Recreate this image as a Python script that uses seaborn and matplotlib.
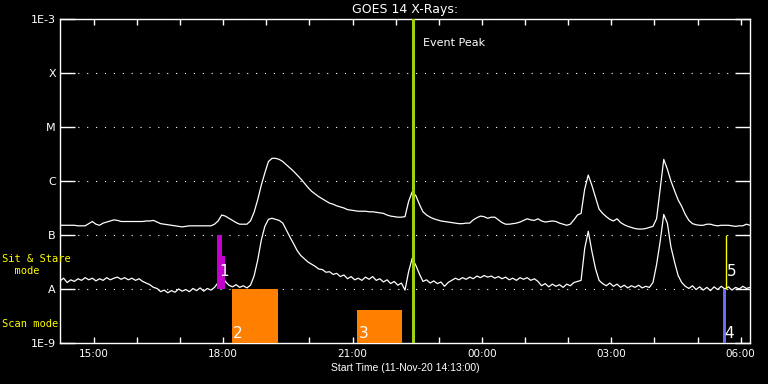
import numpy as np
import pandas as pd
import seaborn as sns
import matplotlib
matplotlib.use('Agg')
import matplotlib.pyplot as plt
import matplotlib.dates as mdates
from matplotlib.ticker import NullLocator

# GOES 14 x-ray flux, 5 min samples from 14:13, log10(W/m^2)
start_time = '2020-11-11 14:13'
long_log = [
    -6.82, -6.82, -6.82, -6.82, -6.82, -6.83, -6.83, -6.83, -6.79, -6.75,
    -6.80, -6.82, -6.78, -6.76, -6.74, -6.72, -6.73, -6.75, -6.75, -6.75,
    -6.75, -6.75, -6.75, -6.75, -6.74, -6.74, -6.73, -6.76, -6.79, -6.80,
    -6.81, -6.82, -6.83, -6.84, -6.85, -6.84, -6.83, -6.83, -6.83, -6.83,
    -6.83, -6.83, -6.83, -6.80, -6.74, -6.63, -6.65, -6.69, -6.73, -6.77,
    -6.80, -6.80, -6.80, -6.74, -6.58, -6.35, -6.08, -5.85, -5.64, -5.58,
    -5.58, -5.60, -5.64, -5.70, -5.76, -5.82, -5.89, -5.96, -6.04, -6.12,
    -6.19, -6.24, -6.29, -6.33, -6.37, -6.41, -6.43, -6.46, -6.48, -6.50,
    -6.53, -6.54, -6.55, -6.56, -6.56, -6.56, -6.57, -6.57, -6.58, -6.59,
    -6.60, -6.63, -6.65, -6.66, -6.67, -6.67, -6.66, -6.38, -6.20, -6.27,
    -6.43, -6.57, -6.63, -6.67, -6.70, -6.72, -6.74, -6.75, -6.76, -6.77,
    -6.78, -6.79, -6.79, -6.78, -6.78, -6.72, -6.68, -6.65, -6.66, -6.69,
    -6.67, -6.67, -6.72, -6.77, -6.80, -6.80, -6.79, -6.78, -6.76, -6.73,
    -6.70, -6.72, -6.73, -6.70, -6.74, -6.76, -6.75, -6.74, -6.75, -6.78,
    -6.80, -6.82, -6.80, -6.72, -6.63, -6.60, -6.15, -5.89, -6.08, -6.30,
    -6.52, -6.60, -6.66, -6.71, -6.74, -6.70, -6.77, -6.81, -6.84, -6.86,
    -6.88, -6.89, -6.89, -6.88, -6.86, -6.84, -6.70, -6.15, -5.60, -5.78,
    -6.00, -6.18, -6.35, -6.47, -6.62, -6.73, -6.79, -6.81, -6.82, -6.82,
    -6.80, -6.80, -6.82, -6.83, -6.82, -6.82, -6.82, -6.83, -6.84, -6.83,
    -6.83, -6.80, -6.82]
short_log = [
    -7.85, -7.80, -7.88, -7.83, -7.86, -7.81, -7.84, -7.79, -7.83, -7.80,
    -7.85, -7.81, -7.84, -7.79, -7.83, -7.80, -7.78, -7.82, -7.79, -7.83,
    -7.80, -7.84, -7.81, -7.86, -7.89, -7.92, -7.97, -7.99, -8.05, -8.02,
    -8.07, -8.03, -8.06, -8.00, -8.04, -8.01, -8.05, -7.99, -8.03, -7.98,
    -8.04, -7.99, -8.02, -7.97, -7.88, -7.76, -7.86, -7.93, -7.96, -7.92,
    -7.97, -7.94, -7.98, -7.93, -7.76, -7.47, -7.10, -6.84, -6.71, -6.69,
    -6.71, -6.73, -6.78, -6.91, -7.04, -7.16, -7.29, -7.38, -7.44, -7.50,
    -7.54, -7.58, -7.63, -7.64, -7.69, -7.68, -7.73, -7.71, -7.77, -7.74,
    -7.81, -7.77, -7.83, -7.80, -7.84, -7.78, -7.82, -7.77, -7.84, -7.81,
    -7.87, -7.83, -7.90, -7.86, -7.93, -7.89, -8.02, -7.68, -7.43, -7.56,
    -7.72, -7.86, -7.83, -7.89, -7.85, -7.90, -7.87, -7.95, -7.88, -7.84,
    -7.80, -7.83, -7.79, -7.82, -7.78, -7.81, -7.76, -7.79, -7.75, -7.78,
    -7.76, -7.80, -7.77, -7.81, -7.78, -7.83, -7.80, -7.84, -7.79, -7.82,
    -7.79, -7.84, -7.81, -7.86, -7.94, -7.90, -7.96, -7.91, -7.95, -7.92,
    -7.97, -7.91, -7.94, -7.88, -7.86, -7.84, -7.25, -6.93, -7.30, -7.62,
    -7.84, -7.90, -7.94, -7.89, -7.95, -7.91, -7.97, -7.93, -7.98, -7.94,
    -7.97, -7.93, -7.98, -7.95, -7.97, -7.88, -7.55, -7.12, -6.62, -6.78,
    -7.22, -7.50, -7.75, -7.88, -7.95, -7.99, -7.94, -8.01, -7.96, -8.02,
    -7.97, -8.03, -7.96, -8.01, -7.95, -8.00, -7.96, -8.02, -7.97, -8.00,
    -7.95, -7.99, -7.97]

# flare class levels
level_flux = [1e-9, 1e-8, 1e-7, 1e-6, 1e-5, 1e-4, 1e-3]
level_names = ['1E-9', 'A', 'B', 'C', 'M', 'X', '1E-3']

# observation windows
obs_label = ['1', '', '2', '3', '4']
obs_start = ['2020-11-11 17:52', '2020-11-11 17:58', '2020-11-11 18:12',
             '2020-11-11 21:06', '2020-11-12 05:35:30']
obs_end = ['2020-11-11 17:58', '2020-11-11 18:02', '2020-11-11 19:16',
           '2020-11-11 22:09', '2020-11-12 05:39:30']
obs_low = [1e-8, 1e-8, 1e-9, 1e-9, 1e-9]
obs_high = [1e-7, 4.1e-8, 1e-8, 4.1e-9, 1e-8]
obs_colors = ['#c400cc', '#c400cc', '#ff8000', '#ff8000', '#6a6aff']

line5_time = '2020-11-12 05:39'
line5_low, line5_high = 1e-8, 1e-7
event_time = '2020-11-11 22:24'

sns.set_theme(style='dark', rc={'axes.facecolor': 'black', 'figure.facecolor': 'black',
                                'axes.edgecolor': 'white', 'text.color': 'white',
                                'axes.labelcolor': 'white', 'xtick.color': 'white',
                                'ytick.color': 'white'})
plt.rcParams['font.family'] = ['DejaVu Sans']

times = pd.date_range(start_time, periods=len(long_log), freq='5min')
df = pd.DataFrame({'time': times,
                   'long': 10 ** np.array(long_log),
                   'short': 10 ** np.array(short_log)})

fig = plt.figure(figsize=(7.68, 3.84), dpi=100)
ax = fig.add_axes([60 / 768, 1 - 343 / 384, 690 / 768, 324 / 384])

sns.lineplot(data=df, x='time', y='long', color='white', lw=0.9, ax=ax)
sns.lineplot(data=df, x='time', y='short', color='white', lw=0.9, ax=ax)

for lab, s, e, lo, hi, c in zip(obs_label, obs_start, obs_end, obs_low, obs_high, obs_colors):
    s = pd.Timestamp(s)
    e = pd.Timestamp(e)
    ax.fill_between([s, e], [lo, lo], [hi, hi], color=c, lw=0, zorder=3)
    if lab:
        off = 17 if lo > 1e-9 else 10
        ax.annotate(lab, xy=(s, lo), xytext=(1.5, off), textcoords='offset pixels',
                    color='white', fontsize=11, ha='left', va='center', zorder=5)

ax.vlines(pd.Timestamp(line5_time), line5_low, line5_high, color='yellow', lw=1, zorder=4)
ax.annotate('5', xy=(pd.Timestamp(line5_time), line5_low), xytext=(1.5, 17),
            textcoords='offset pixels', color='white', fontsize=11, ha='left', va='center')

ax.axvline(pd.Timestamp(event_time), color='#a0d010', lw=2.2, zorder=4)
ax.annotate('Event Peak', xy=(pd.Timestamp(event_time), 1), xycoords=('data', 'axes fraction'),
            xytext=(10, -24), textcoords='offset pixels', color='white', fontsize=8,
            ha='left', va='center')

ax.set_yscale('log')
ax.set_ylim(1e-9, 1e-3)
ax.set_yticks(level_flux)
ax.set_yticklabels(level_names)
ax.yaxis.set_minor_locator(NullLocator())
t0 = pd.Timestamp(start_time)
ax.set_xlim(t0, t0 + pd.Timedelta(hours=16))
ax.xaxis.set_major_locator(mdates.HourLocator(byhour=range(0, 24, 3)))
ax.xaxis.set_minor_locator(mdates.HourLocator())
ax.xaxis.set_major_formatter(mdates.DateFormatter('%H:%M'))

ax.grid(False)
ax.yaxis.grid(True, which='major', color='white', linestyle=(0, (1, 7)), linewidth=0.8)
for sp in ax.spines.values():
    sp.set_visible(True)
    sp.set_color('white')
    sp.set_linewidth(1)
ax.tick_params(axis='y', which='major', direction='in', length=11, width=1,
               left=True, right=True, labelsize=8, pad=3)
ax.tick_params(axis='x', which='both', direction='in', length=4.3, width=1,
               top=True, bottom=True, labelsize=7.5, pad=4)

ax.set_title('GOES 14 X-Rays:', color='white', fontsize=9, pad=4)
ax.set_xlabel('Start Time (11-Nov-20 14:13:00)', fontsize=7.5, labelpad=3,
              family='Liberation Sans')
ax.set_ylabel('')

fig.text(2 / 768, 1 - 265 / 384, 'Sit & Stare\n  mode', color='yellow', fontsize=7.5,
         family='DejaVu Sans Mono', va='center', ha='left', linespacing=1.15)
fig.text(2 / 768, 1 - 324 / 384, 'Scan mode', color='yellow', fontsize=7.5,
         family='DejaVu Sans Mono', va='center', ha='left')

fig.savefig('out.png', dpi=100, facecolor='black')
